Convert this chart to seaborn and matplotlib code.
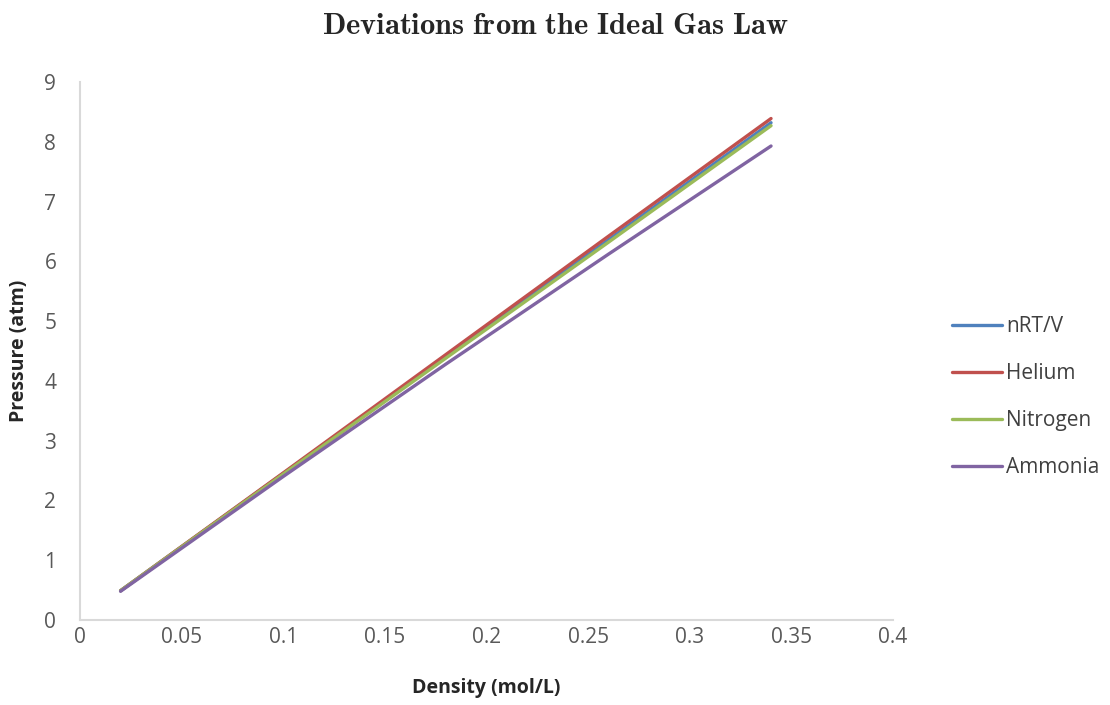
import matplotlib
matplotlib.use("Agg")
import matplotlib.pyplot as plt
import seaborn as sns
import pandas as pd

# Data
density = [0.02, 0.10, 0.18, 0.26, 0.34]
nrtv = [0.49, 2.45, 4.40, 6.36, 8.32]
helium = [0.49, 2.46, 4.44, 6.42, 8.39]
nitrogen = [0.49, 2.44, 4.38, 6.32, 8.27]
ammonia = [0.48, 2.40, 4.28, 6.12, 7.93]
series_names = ["nRT/V", "Helium", "Nitrogen", "Ammonia"]
colors = ["#4F81BD", "#C0504D", "#9BBB59", "#8064A2"]

df = pd.concat([
    pd.DataFrame({"Density": density, "Pressure": vals, "Series": name})
    for name, vals in zip(series_names, [nrtv, helium, nitrogen, ammonia])
])

sns.set_style("white")
plt.rcParams["font.family"] = ["Open Sans", "DejaVu Sans"]
plt.rcParams["mathtext.fontset"] = "cm"

fig = plt.figure(figsize=(11.1, 7.05), dpi=100)
ax = fig.add_axes([0.072, 0.1206, 0.7325, 0.763])

sns.lineplot(data=df, x="Density", y="Pressure", hue="Series",
             palette=colors, linewidth=2.4, ax=ax)

ax.set_xlim(0, 0.4)
ax.set_ylim(0, 9)
ax.set_xticks([0, 0.05, 0.1, 0.15, 0.2, 0.25, 0.3, 0.35, 0.4])
ax.set_xticklabels(["0", "0.05", "0.1", "0.15", "0.2", "0.25", "0.3", "0.35", "0.4"])
ax.set_yticks(range(0, 10))
ax.tick_params(axis="both", length=0, labelsize=15, labelcolor="#595959")
ax.tick_params(axis="x", pad=5)
ax.tick_params(axis="y", pad=17)

for side in ["top", "right"]:
    ax.spines[side].set_visible(False)
for side in ["left", "bottom"]:
    ax.spines[side].set_color("#d9d9d9")
    ax.spines[side].set_linewidth(1.5)

ax.set_xlabel("Density (mol/L)", fontsize=14, fontweight="bold", color="#262626", labelpad=22)
ax.set_ylabel("Pressure (atm)", fontsize=14, fontweight="bold", color="#262626", labelpad=11)

handles, labels = ax.get_legend_handles_labels()
ax.legend(handles, labels, loc="center left", bbox_to_anchor=(0.841, 0.437),
          bbox_transform=fig.transFigure, frameon=False, fontsize=15,
          handlelength=2.4, labelspacing=1.25, handletextpad=0.2, labelcolor="#404040")

fig.text(0.5, 0.963, r"$\mathbf{Deviations\ from\ the\ Ideal\ Gas\ Law}$",
         ha="center", va="center", fontsize=22)

plt.savefig("out.png", dpi=100)
